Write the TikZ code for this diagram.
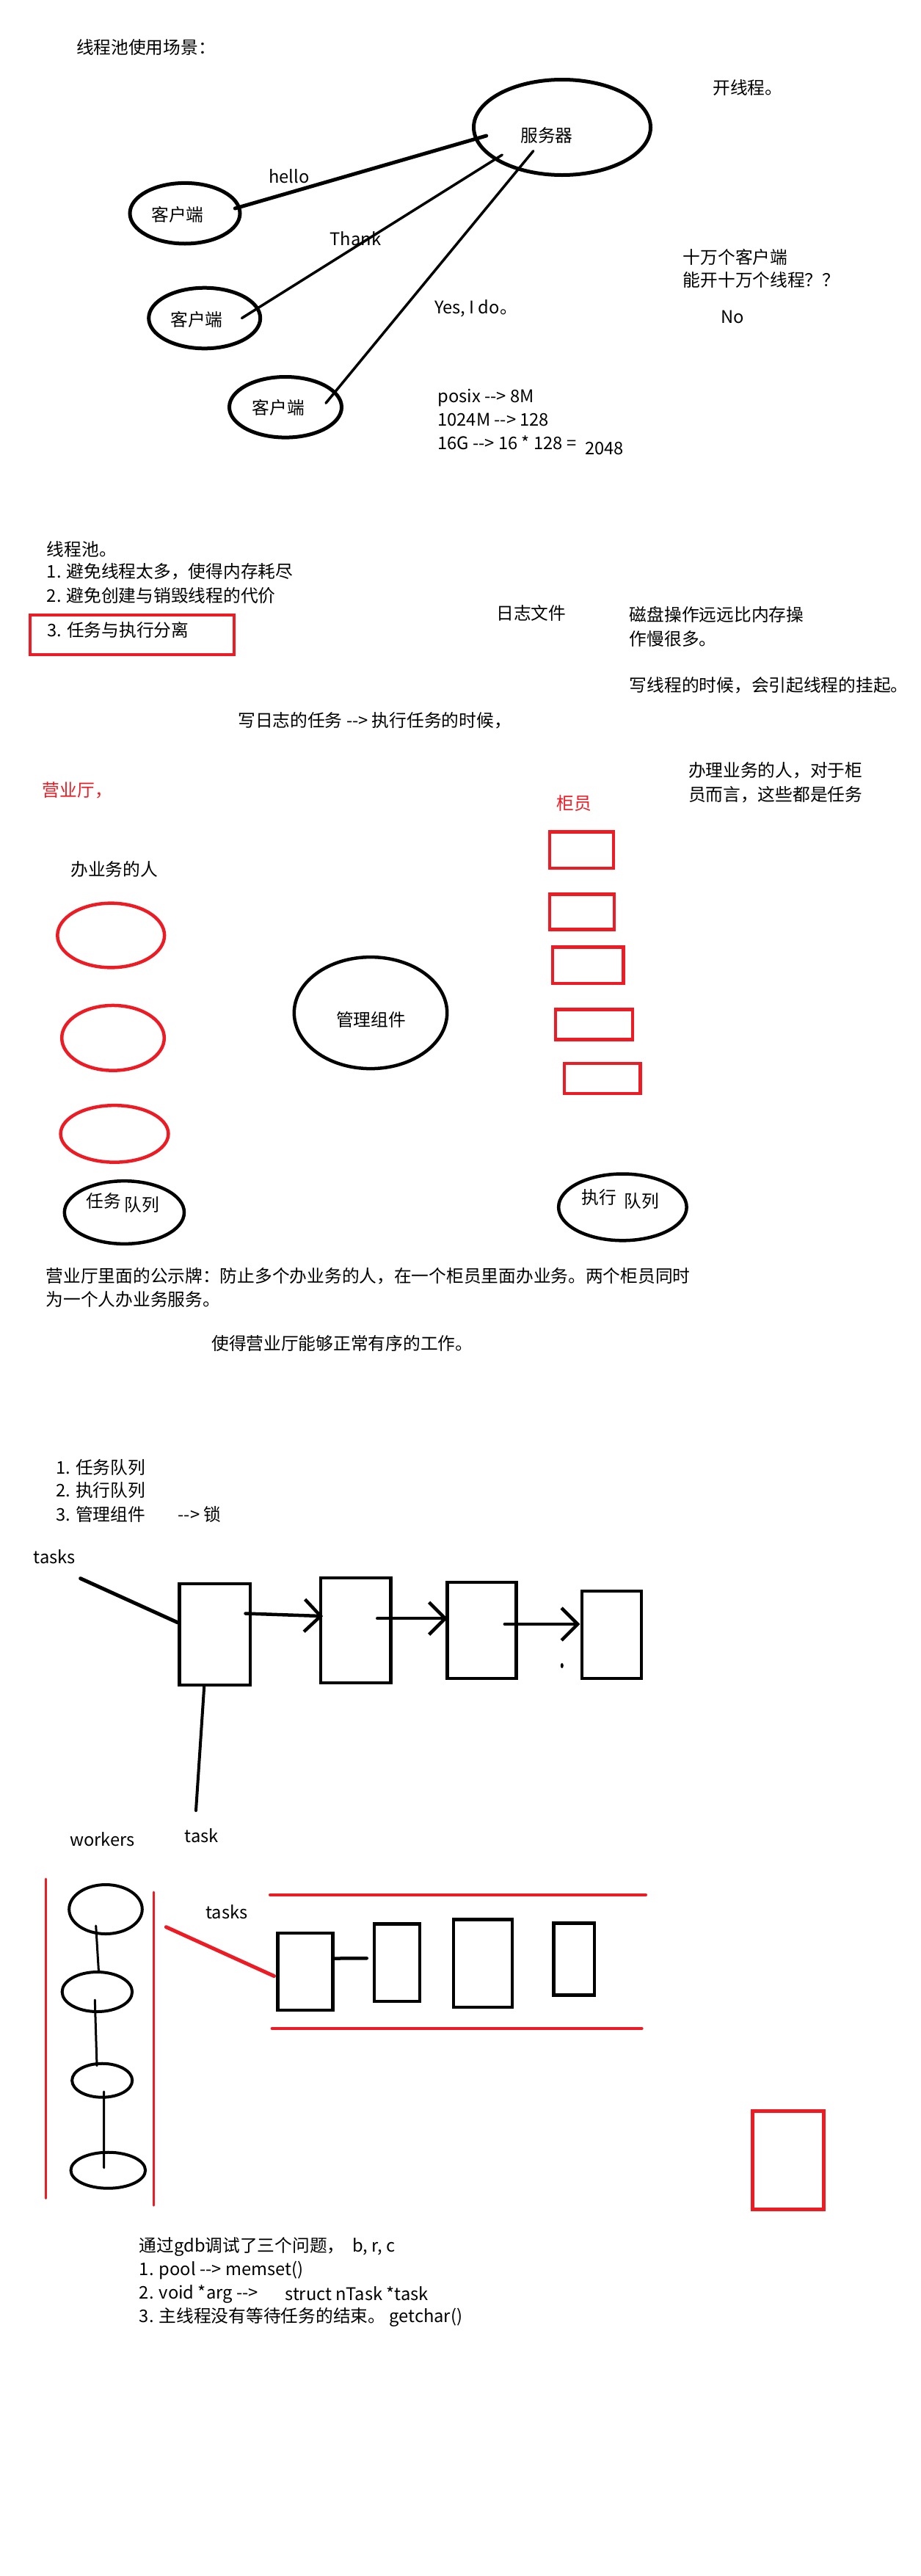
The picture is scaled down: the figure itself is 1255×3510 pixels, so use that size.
\documentclass[tikz,border=0pt]{standalone}
\usepackage{fontspec}
\setmainfont{Noto Sans CJK SC}
\usepackage{tikz}
\usetikzlibrary{shapes.geometric,arrows.meta,calc,positioning}
\definecolor{paintred}{RGB}{237,28,36}
\newlength\pxu
\setlength\pxu{0.2mm}

\begin{document}
\begin{tikzpicture}[x=0.2mm, y=-0.2mm, line cap=round,
  every node/.style={inner sep=0pt, font=\fontsize{13.5}{16}\selectfont},
  txt/.style={anchor=west},
  redtxt/.style={anchor=west, text=paintred},
  bub/.style={ellipse, draw, line width=5\pxu},
  redbub/.style={ellipse, draw=paintred, line width=4.5\pxu},
  rbox/.style={rectangle, draw=paintred, line width=4.5\pxu},
  kbox/.style={rectangle, draw, line width=4.5\pxu},
  wkr/.style={ellipse, draw, line width=4\pxu},
  tip/.style={-{Straight Barb[length=4.4mm, width=8.8mm]}}]
\fill[white] (0,0) rectangle (1255,3510);
\useasboundingbox (0,0) rectangle (1255,3510);

\node [txt] (ttl) at (103.7,64.3) {线程池使用场景：};
\node [bub, minimum width=241\pxu, minimum height=130\pxu] (srv) at (766,173.5) {};
\node (srv_t) at (745,184) {服务器};
\node [txt] (kxc) at (971,120) {开线程。};
\node [bub, minimum width=150\pxu, minimum height=82.6\pxu] (cl_1) at (252,290.7) {};
\node (cl_1t) at (242,292.3) {客户端};
\node [bub, minimum width=152\pxu, minimum height=82.6\pxu] (cl_2) at (278.7,433.5) {};
\node (cl_2t) at (268,435.5) {客户端};
\node [bub, minimum width=153\pxu, minimum height=82.6\pxu] (cl_3) at (389,554.8) {};
\node (cl_3t) at (379.3,555.8) {客户端};
\node (hel) at (393.7,240.5) {hello};
\node (thk) at (484.5,325.4) {Thank};
\node [txt] (yes) at (591.7,420) {Yes, I do。};
\path [line width=5\pxu]
($(cl_1)+(68.3,-6.7)$) edge ($(srv)+(-103.3,11.5)$);
\path [line width=3.5\pxu]
($(cl_2)+(50.8,0)$) edge ($(srv)+(-81.7,37.5)$)
($(cl_3)+(55,-5.5)$) edge ($(srv)+(-39.3,32.2)$);
\node [txt] (q_1) at (930.5,350.3) {十万个客户端};
\node [txt] (q_2) at (930.5,381.5) {能开十万个线程？？};
\node (no) at (998,431.7) {No};
\node [txt] (mem_1) at (596,541.7) {posix -{}-> 8M};
\node [txt] (mem_2) at (596,572) {1024M -{}-> 128};
\node [txt] (mem_3) at (596,603) {16G -{}-> 16 * 128 =};
\node [txt] (mem_4) at ($(mem_3.east)+(11,8)$) {2048};

\node [txt] (pl_0) at (63.6,748) {线程池。};
\node [txt] (pl_1) at (63.6,779) {1. 避免线程太多，使得内存耗尽};
\node [txt] (pl_2) at (63.6,811.7) {2. 避免创建与销毁线程的代价};
\node [rbox, minimum width=278\pxu, minimum height=54\pxu] (pl_box) at (180,865) {};
\node [txt] (pl_3) at (64,858) {3. 任务与执行分离};
\node [txt] (log) at (676,835.7) {日志文件};
\node [txt] (dsk_1) at (857.6,837.7) {磁盘操作远远比内存操};
\node [txt] (dsk_2) at (857.6,870) {作慢很多。};
\node [txt] (dsk_3) at (857.6,933.3) {写线程的时候，会引起线程的挂起。};
\node [txt] (wlog) at (324,981.7) {写日志的任务 -{}-> 执行任务的时候，};
\node [txt] (biz_1) at (937.7,1050) {办理业务的人，对于柜};
\node [txt] (biz_2) at (937.7,1082.3) {员而言，这些都是任务};
\node [redtxt] (hall) at (57.5,1076.7) {营业厅，};
\node [redtxt] (ctr) at (758.6,1094.9) {柜员};
\node [txt] (ppl) at (96,1184.2) {办业务的人};
\node [redbub, minimum width=145.8\pxu, minimum height=87.7\pxu] (pp_1) at (151.2,1274.5) {};
\node [redbub, minimum width=139.6\pxu, minimum height=88.7\pxu] (pp_2) at (154,1414.3) {};
\node [redbub, minimum width=146.8\pxu, minimum height=77.5\pxu] (pp_3) at (156,1544.9) {};
\node [ellipse, draw, line width=4.5\pxu, minimum width=208.4\pxu, minimum height=152\pxu] (mgr) at (505,1380.1) {};
\node (mgr_t) at (505.7,1389.3) {管理组件};
\node [rbox, minimum width=87.3\pxu, minimum height=49.5\pxu] (ct_1) at (792.5,1158.2) {};
\node [rbox, minimum width=88.3\pxu, minimum height=48\pxu] (ct_2) at (793,1242.3) {};
\node [rbox, minimum width=96.5\pxu, minimum height=49.5\pxu] (ct_3) at (801.2,1315.3) {};
\node [rbox, minimum width=104.7\pxu, minimum height=41.3\pxu] (ct_4) at (809.4,1395.9) {};
\node [rbox, minimum width=103.7\pxu, minimum height=41.3\pxu] (ct_5) at (820.7,1469.4) {};
\node [ellipse, draw, line width=4.5\pxu, minimum width=163.2\pxu, minimum height=85.7\pxu] (tq) at (169.4,1652) {};
\node (tq_a) at (141.2,1636.7) {任务};
\node (tq_b) at (193,1641.8) {队列};
\node [ellipse, draw, line width=4.5\pxu, minimum width=174.5\pxu, minimum height=90.8\pxu] (eq) at (848.4,1644.9) {};
\node (eq_a) at (816.5,1631.6) {执行};
\node (eq_b) at (874.6,1636.7) {队列};
\node [txt] (sign_1) at (62.4,1738.8) {营业厅里面的公示牌：防止多个办业务的人，在一个柜员里面办业务。两个柜员同时};
\node [txt] (sign_2) at (62.4,1770.4) {为一个人办业务服务。};
\node [txt] (sign_3) at (288,1830.6) {使得营业厅能够正常有序的工作。};

\node [txt] (ls_1) at (76,1999.5) {1. 任务队列};
\node [txt] (ls_2) at (76,2030.1) {2. 执行队列};
\node [txt] (ls_3) at (76,2063.8) {3. 管理组件};
\node [txt] (ls_4) at (242.3,2063.8) {-{}-> 锁};
\node [txt] (tks) at (45.6,2121.5) {tasks};
\node [kbox, minimum width=96.5\pxu, minimum height=137.8\pxu] (tk_1) at (292.6,2227.1) {};
\node [kbox, minimum width=95.5\pxu, minimum height=142.9\pxu] (tk_2) at (484.5,2221.5) {};
\node [kbox, minimum width=94.4\pxu, minimum height=131.2\pxu] (tk_3) at (656.5,2221.5) {};
\node [kbox, minimum width=80.6\pxu, minimum height=118.9\pxu] (tk_4) at (833.5,2227.6) {};
\coordinate (tk_in) at (109.6,2150.7);
\coordinate (tk_out) at (267,2467);
\path [line width=5\pxu]
(tk_in) edge ($(tk_1.west)+(0,-16.3)$);
\path [line width=4\pxu]
($(tk_1.south)+(-14.4,0)$) edge (tk_out);
\path [tip, line width=4.5\pxu]
($(tk_1)+(41.9,-28.6)$) edge ($(tk_2)+(-44.4,-19.4)$)
($(tk_2)+(29.8,-16.3)$) edge ($(tk_3)+(-46.7,-16.3)$)
($(tk_3)+(31.3,-8.5)$) edge ($(tk_4)+(-43.1,-14.6)$);
\fill (765.8,2269.5) ellipse [x radius=2, y radius=3.5];
\node (tsk) at (274.7,2500.7) {task};
\node (wks) at (139.6,2506) {workers};

\draw [paintred, line width=3\pxu] (62.4,2560) -- (62.4,2995.3);
\draw [paintred, line width=3\pxu] (209.4,2578) -- (209.4,3005.1);
\node [wkr, minimum width=99.6\pxu, minimum height=67\pxu] (wk_1) at (144,2601.5) {};
\node [wkr, minimum width=95.5\pxu, minimum height=54\pxu] (wk_2) at (132.4,2714) {};
\node [wkr, minimum width=82.1\pxu, minimum height=46\pxu] (wk_3) at (139.2,2834.7) {};
\node [wkr, minimum width=101.6\pxu, minimum height=49\pxu] (wk_4) at (147.3,2957.2) {};
\path [line width=3\pxu]
($(wk_1)+(-13.3,22.5)$) edge ($(wk_2.north)+(2,0)$)
($(wk_2)+(-3.1,11)$) edge ($(wk_3.north)+(-7.2,5)$)
($(wk_3)+(2.5,15.3)$) edge ($(wk_4)+(-5.6,-3.4)$);
\node [txt] (tks_2) at (280,2605) {tasks};
\draw [paintred, line width=4\pxu] (368,2582) -- (880,2582);
\draw [paintred, line width=4\pxu] (370.6,2764) -- (874.6,2764);
\node [kbox, minimum width=75\pxu, minimum height=105\pxu] (wq_1) at (416.2,2686.5) {};
\node [kbox, minimum width=61.6\pxu, minimum height=105.5\pxu] (wq_2) at (541,2674) {};
\node [kbox, minimum width=80\pxu, minimum height=119.5\pxu] (wq_3) at (658,2675) {};
\node [kbox, minimum width=55.4\pxu, minimum height=98\pxu] (wq_4) at (782.2,2669.5) {};
\coordinate (wq_in) at (226.4,2625.7);
\path [paintred, line width=5\pxu]
(wq_in) edge ($(wq_1.west)+(-3,6)$);
\path [line width=4.5\pxu]
($(wq_1.east)+(0,-18)$) edge ($(wq_2.west)+(-8.2,-5.7)$);
\node [rbox, line width=5\pxu, minimum width=97\pxu, minimum height=134\pxu] (spare) at (1074,2943.5) {};

\node [txt] (gdb_0) at (189.6,3061.3) {通过gdb调试了三个问题，\ \ b, r, c};
\node [txt] (gdb_1) at (189.6,3093.4) {1. pool -{}-> memset()};
\node [txt] (gdb_2) at (189.6,3125.5) {2. void *arg -{}->};
\node [txt] (gdb_2b) at ($(gdb_2.east)+(36,0)$) {struct nTask *task};
\node [txt] (gdb_3) at (189.6,3157.2) {3. 主线程没有等待任务的结束。 getchar()};
\end{tikzpicture}
\end{document}
